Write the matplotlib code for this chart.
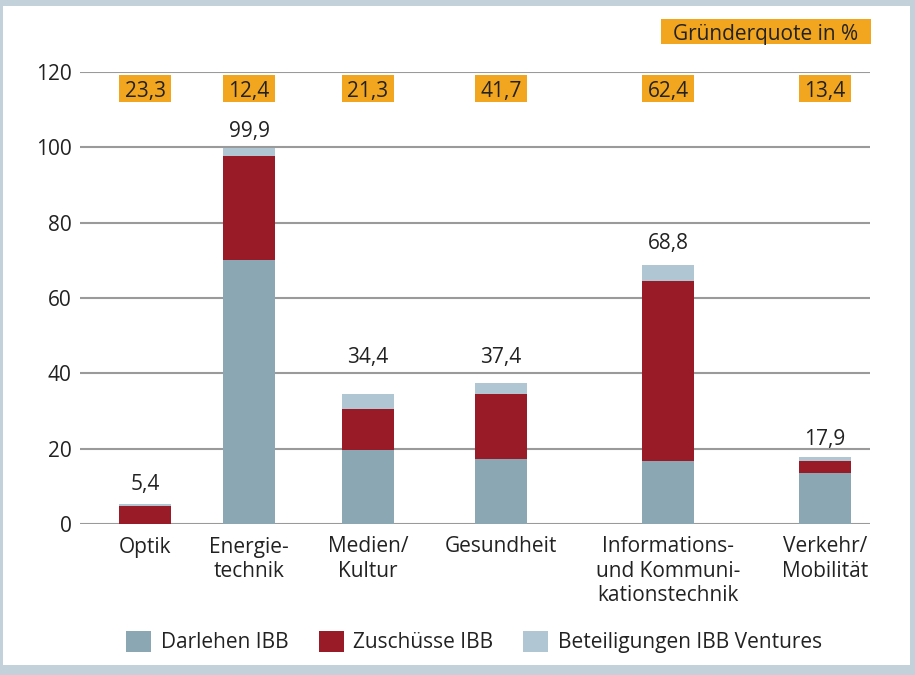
import matplotlib
matplotlib.use("Agg")
import matplotlib.pyplot as plt
from matplotlib.patches import Rectangle
import numpy as np

categories = ["Optik", "Energie-\ntechnik", "Medien/\nKultur", "Gesundheit",
              "Informations-\nund Kommuni-\nkationstechnik", "Verkehr/\nMobilität"]
darlehen = [0.0, 70.2, 19.7, 17.3, 16.8, 13.6]
zuschuesse = [4.9, 27.4, 10.9, 17.3, 47.6, 3.2]
beteiligungen = [0.5, 2.3, 3.8, 2.8, 4.4, 1.1]
totals = ["5,4", "99,9", "34,4", "37,4", "68,8", "17,9"]
quote = ["23,3", "12,4", "21,3", "41,7", "62,4", "13,4"]
series_names = ["Darlehen IBB", "Zuschüsse IBB", "Beteiligungen IBB Ventures"]
yticks = [0, 20, 40, 60, 80, 100, 120]

# layout (not data)
positions = [65, 169, 288, 421, 588, 745]
label_gap_px = [14, 11, 31, 20, 16, 12]
bar_w = 52

c_dar = "#8BA7B3"
c_zus = "#9A1B28"
c_bet = "#B0C6D3"
c_orange = "#F2A51E"
c_text = "#222222"
c_frame = "#C3D1DA"
fs = 15

plt.rcParams['font.family'] = ['Open Sans', 'DejaVu Sans']

W, H = 915, 675
fig = plt.figure(figsize=(W / 100, H / 100), dpi=100)
fig.patch.set_facecolor(c_frame)
fig.patches.append(Rectangle((3 / W, 1 - 665 / H), 907 / W, 659 / H,
                             transform=fig.transFigure, facecolor="white",
                             edgecolor="none", zorder=-10))

ax = fig.add_axes([80 / W, 1 - 524 / H, 790 / W, 452 / H])
ax.set_facecolor("none")
ax.set_xlim(0, 790)
ax.set_ylim(0, 120)

for y in yticks:
    ax.axhline(y, color="#9a9a9a", lw=1.5, zorder=1)

x = np.array(positions)
d = np.array(darlehen)
z = np.array(zuschuesse)
b = np.array(beteiligungen)
ax.bar(x, d, width=bar_w, color=c_dar, zorder=2, label=series_names[0])
ax.bar(x, z, width=bar_w, bottom=d, color=c_zus, zorder=2, label=series_names[1])
ax.bar(x, b, width=bar_w, bottom=d + z, color=c_bet, zorder=2, label=series_names[2])

top = d + z + b
for xi, ti, lab, gap in zip(x, top, totals, label_gap_px):
    ax.annotate(lab, (xi, ti), xytext=(0, gap), textcoords="offset pixels",
                ha="center", va="baseline", fontsize=fs, color=c_text)

# Gründerquote boxes (same width as bars)
for xi, q in zip(x, quote):
    ax.add_patch(Rectangle((xi - bar_w / 2, 112.0), bar_w, 7.2, facecolor=c_orange,
                           edgecolor="none", clip_on=False, zorder=3))
    ax.text(xi, 115.6, q, ha="center", va="center_baseline", fontsize=fs,
            color=c_text, clip_on=False, zorder=4)

ax.add_patch(Rectangle((581, 127.4), 210, 6.7, facecolor=c_orange, edgecolor="none",
                       clip_on=False, zorder=3))
ax.text(686, 130.75, "Gründerquote in %", ha="center", va="center_baseline",
        fontsize=fs, color=c_text, clip_on=False, zorder=4)

ax.set_yticks(yticks)
ax.set_yticklabels([str(v) for v in yticks], fontsize=fs, color=c_text)
ax.set_xticks(x)
ax.set_xticklabels(categories, fontsize=fs, color=c_text, linespacing=1.2, va="top")
ax.tick_params(axis="both", length=0)
ax.tick_params(axis="y", pad=6)
ax.tick_params(axis="x", pad=9)
for s in ax.spines.values():
    s.set_visible(False)

fig.legend(loc="center", bbox_to_anchor=(474 / W, 1 - 642 / H), ncol=3, frameon=False,
           fontsize=fs, handlelength=1.2, handleheight=1.2, columnspacing=1.45,
           handletextpad=0.45, labelcolor=c_text)

fig.savefig("out.png", dpi=100, facecolor=fig.get_facecolor())
